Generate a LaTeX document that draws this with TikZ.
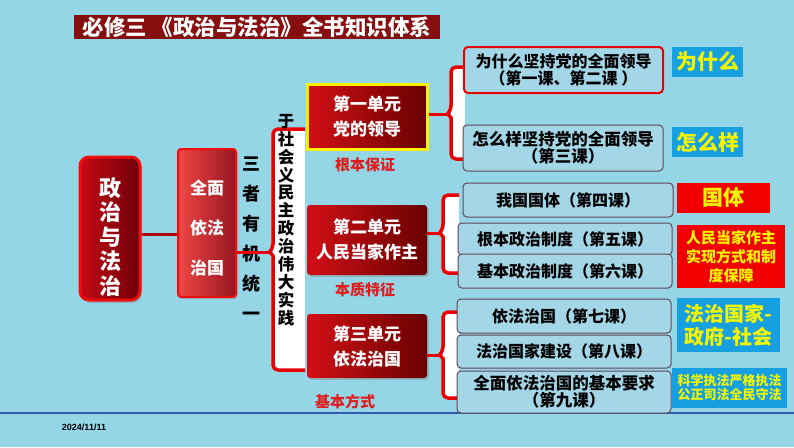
\documentclass[tikz,border=0pt]{standalone}
\usepackage{fontspec}
\setmainfont{Noto Sans CJK SC}
\newfontfamily\latinfont{Liberation Sans}
\usetikzlibrary{shadows}
\definecolor{bgblue}{RGB}{148,214,230}
\definecolor{titleR}{RGB}{135,14,14}
\definecolor{unitL}{RGB}{210,16,22}
\definecolor{unitR}{RGB}{105,0,0}
\definecolor{mainB}{RGB}{238,12,12}
\definecolor{mainL}{RGB}{196,10,20}
\definecolor{mainR}{RGB}{112,0,10}
\definecolor{boxL}{RGB}{240,70,70}
\definecolor{boxR}{RGB}{150,22,32}
\definecolor{braceR}{RGB}{232,0,0}
\definecolor{connR}{RGB}{170,0,10}
\definecolor{lessonF}{RGB}{163,215,232}
\definecolor{lessonB}{RGB}{100,70,90}
\definecolor{tagBlue}{RGB}{22,160,226}
\definecolor{tagRed}{RGB}{242,0,0}
\definecolor{tagY}{RGB}{245,245,0}
\definecolor{labelR}{RGB}{222,30,30}
\definecolor{lineB}{RGB}{50,90,170}
\definecolor{yellowB}{RGB}{255,240,0}
\tikzset{
  mainbox/.style={rectangle, rounded corners=9pt, draw=mainB, line width=3pt,
    left color=mainL, right color=mainR, inner sep=0pt,
    drop shadow={opacity=0.35, shadow xshift=2pt, shadow yshift=-3pt}},
  lawbox/.style={rectangle, rounded corners=3pt, draw=mainB, line width=2pt,
    left color=boxL, right color=boxR, inner sep=0pt,
    drop shadow={opacity=0.3, shadow xshift=2pt, shadow yshift=-2pt}},
  unit/.style={rectangle, rounded corners=3pt, left color=unitL, right color=unitR,
    minimum width=120pt, text=white, align=center, inner sep=0pt,
    font=\bfseries\fontsize{17}{25}\selectfont,
    drop shadow={opacity=0.35, shadow xshift=2pt, shadow yshift=-2pt}},
  lesson/.style={rectangle, rounded corners=4pt, draw=lessonB, line width=1pt,
    fill=lessonF, align=center, inner sep=0pt,
    font=\bfseries\fontsize{16}{17}\selectfont},
  tagbox/.style={rectangle, inner sep=0pt, text=tagY, align=center},
  conn/.style={draw=braceR, line width=3pt},
  darkconn/.style={draw=connR, line width=3pt},
  bracket/.style={draw=braceR, line width=3.5pt, line join=round},
  redlabel/.style={text=labelR, font=\bfseries\fontsize{15}{15}\selectfont},
  vtext/.style={align=center, inner sep=0pt},
}
\newcommand{\mybracket}[6]{% #1 name of tip, #2 vx, #3 top, #4 bottom, #5 tip y, #6 arm end x
  \fill[white] (#2,#3) rectangle (#6,#4);
  \draw[bracket] (#6,#3) [rounded corners=5pt]-- (#2,#3) -- (#2,#5-3.5) [sharp corners]-- (#2-3.5,#5) -- (#2,#5+3.5) [rounded corners=5pt]-- (#2,#4) -- (#6,#4);
  \coordinate (#1) at (#2-3,#5);
}
\begin{document}
\begin{tikzpicture}[x=1pt,y=-1pt]
\fill[bgblue] (0,0) rectangle (794,447);
\useasboundingbox (0,0) rectangle (794,447);

% bottom rule and date
\draw[line width=2pt, draw=lineB] (0,413) -- (794,413);
\node[font=\latinfont\bfseries\fontsize{9}{9}\selectfont, inner sep=0pt] (date) at (84,427) {2024/11/11};

% title
\node[fill=titleR, minimum width=366pt, minimum height=24pt, inner sep=0pt, text=white,
  font=\bfseries\fontsize{21.5}{22}\selectfont] (title) at (257,27) {必修三 《政治与法治》全书知识体系};

% brackets
\mybracket{tipM}{273}{129}{370}{252}{305}
\mybracket{tipA}{451}{67}{159}{114}{465}
\mybracket{tipB}{443}{195}{273}{233}{459}
\mybracket{tipC}{443}{312}{398}{355}{459}

% left boxes
\node[mainbox, minimum width=60pt, minimum height=143pt] (main) at (110,228.5) {};
\node[vtext, text=white, font=\bfseries\fontsize{22}{24.5}\selectfont] (mainT) at (110,237) {政\\治\\与\\法\\治};
\node[lawbox, minimum width=58pt, minimum height=148pt] (law) at (207,223) {};
\node[vtext, text=white, font=\bfseries\fontsize{17}{40}\selectfont] (lawT) at (207,228) {全面\\依法\\治国};
\node[vtext, font=\bfseries\fontsize{18}{30}\selectfont] (three) at (251,239) {三\\者\\有\\机\\统\\一};
\node[vtext, font=\bfseries\fontsize{16.5}{17.9}\selectfont] (practice) at (286,220) {于\\社\\会\\义\\民\\主\\政\\治\\伟\\大\\实\\践};

% connectors on the left
\draw[darkconn] ([yshift=-5.5pt]main.east) -- ([yshift=-5.5pt]main.east -| law.west);
\draw[conn] (tipM -| law.east) -- (tipM);

% units
\node[unit, minimum height=65pt, draw=yellowB, line width=3pt, rounded corners=0pt] (u1) at (367,116.5) {第一单元\\党的领导};
\node[unit, minimum height=70pt] (u2) at (367,240) {第二单元\\人民当家作主};
\node[unit, minimum height=64pt] (u3) at (367,346) {第三单元\\依法治国};
\node[redlabel] (l1) at (365,165) {根本保证};
\node[redlabel] (l2) at (365,290) {本质特征};
\node[redlabel] (l3) at (345,402) {基本方式};

\draw[conn] (tipA -| u1.east) -- (tipA);
\draw[conn] (tipB -| u2.east) -- (tipB);
\draw[conn] (tipC -| u3.east) -- (tipC);

% lessons
\node[lesson, draw=braceR, line width=2pt, minimum width=199pt, minimum height=46pt] (r1) at (563.5,70) {为什么坚持党的全面领导\\（第一课、第二课 ）};
\node[lesson, minimum width=200pt, minimum height=46pt, font=\bfseries\fontsize{16.5}{15.5}\selectfont] (r2) at (563,148) {怎么样坚持党的全面领导\\（第三课）};
\node[lesson, minimum width=210pt, minimum height=34pt] (r3) at (568,200) {我国国体（第四课）};
\node[lesson, minimum width=214pt, minimum height=32pt] (r4) at (565,239) {根本政治制度（第五课）};
\node[lesson, minimum width=214pt, minimum height=34pt] (r5) at (565,271) {基本政治制度（第六课）};
\node[lesson, minimum width=214pt, minimum height=34pt] (r6) at (564,316) {依法治国（第七课）};
\node[lesson, minimum width=214pt, minimum height=33pt] (r7) at (564,351.5) {法治国家建设（第八课）};
\node[lesson, minimum width=214pt, minimum height=42pt, font=\bfseries\fontsize{16.5}{17}\selectfont] (r8) at (564,392) {全面依法治国的基本要求\\（第九课）};

% tags
\node[tagbox, fill=tagBlue, minimum width=71pt, minimum height=30pt, font=\bfseries\fontsize{21}{21}\selectfont] (t1) at (707.5,62) {为什么};
\node[tagbox, fill=tagBlue, minimum width=71pt, minimum height=30pt, font=\bfseries\fontsize{21}{21}\selectfont] (t2) at (707.5,142) {怎么样};
\node[tagbox, fill=tagRed, minimum width=93pt, minimum height=30pt, font=\bfseries\fontsize{21}{21}\selectfont] (t3) at (723.5,198) {国体};
\node[tagbox, fill=tagRed, minimum width=108pt, minimum height=63pt, font=\bfseries\fontsize{15}{19}\selectfont] (t4) at (731,256.5) {人民当家作主\\实现方式和制\\度保障};
\node[tagbox, fill=tagBlue, minimum width=103pt, minimum height=54pt, font=\bfseries\fontsize{20}{23}\selectfont] (t5) at (728.5,325) {法治国家-\\政府-社会};
\node[tagbox, fill=tagBlue, minimum width=115pt, minimum height=40pt, font=\bfseries\fontsize{13}{14}\selectfont] (t6) at (729.5,388) {科学执法严格执法\\公正司法全民守法};
\end{tikzpicture}
\end{document}
